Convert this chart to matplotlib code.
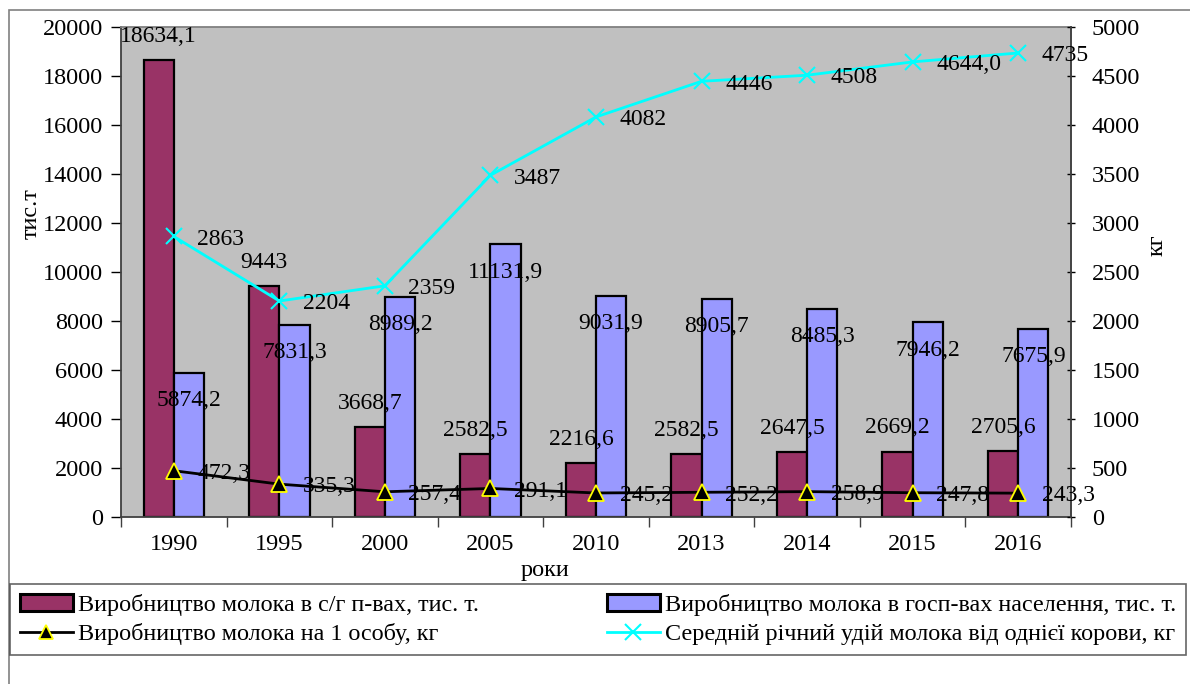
import matplotlib
matplotlib.use("Agg")
import matplotlib.pyplot as plt
from matplotlib.patches import Rectangle, Patch
from matplotlib.lines import Line2D
import numpy as np

years = ["1990", "1995", "2000", "2005", "2010", "2013", "2014", "2015", "2016"]
agri_prod = [18634.1, 9443, 3668.7, 2582.5, 2216.6, 2582.5, 2647.5, 2669.2, 2705.6]
agri_dec = [1, 0, 1, 1, 1, 1, 1, 1, 1]
house_prod = [5874.2, 7831.3, 8989.2, 11131.9, 9031.9, 8905.7, 8485.3, 7946.2, 7675.9]
house_dec = [1, 1, 1, 1, 1, 1, 1, 1, 1]
per_capita = [472.3, 335.3, 257.4, 291.1, 245.2, 252.2, 258.9, 247.8, 243.3]
per_capita_dec = [1, 1, 1, 1, 1, 1, 1, 1, 1]
milk_yield = [2863, 2204, 2359, 3487, 4082, 4446, 4508, 4644.0, 4735]
milk_yield_dec = [0, 0, 0, 0, 0, 0, 0, 1, 0]

names = ["Виробництво молока в с/г п-вах, тис. т.",
         "Виробництво молока в госп-вах населення, тис. т.",
         "Виробництво молока на 1 особу, кг",
         "Середній річний удій молока від однієї корови, кг"]

def fmt(v, d):
    return f"{v:.{d}f}".replace(".", ",")

plt.rcParams['font.family'] = ['Liberation Serif', 'DejaVu Serif']
FS = 17.5
FS_LAB = 17
FS_LEG = 17.4

W, H = 1190, 684
fig = plt.figure(figsize=(W / 100, H / 100), dpi=100)

# outer frame
fig.patches.append(Rectangle((9 / W, -0.1), 1.2, 1 - 10 / H + 0.1, transform=fig.transFigure,
                             fill=False, edgecolor='#808080', linewidth=1.2))

ax = fig.add_axes([121 / W, 1 - 517 / H, 950 / W, 490 / H])
ax.set_facecolor('#C0C0C0')
x = np.arange(len(years))
bw = 0.286
b1 = ax.bar(x - bw / 2, agri_prod, bw, color='#993366', edgecolor='black', linewidth=1.6, zorder=2)
b2 = ax.bar(x + bw / 2, house_prod, bw, color='#9999FF', edgecolor='black', linewidth=1.6, zorder=2)
ax.set_xlim(-0.5, len(years) - 0.5)
ax.set_ylim(0, 20000)
ax.set_yticks(np.arange(0, 20001, 2000))
ax.set_xticks(x)
ax.set_xticklabels(years, fontsize=FS)
ax.set_xticks(np.arange(-0.5, len(years), 1), minor=True)
ax.tick_params(axis='x', which='major', length=0, pad=12)
ax.tick_params(axis='x', which='minor', length=7, width=1, direction='out', color='#404040')
ax.tick_params(axis='y', labelsize=FS, length=7, width=1, direction='out', pad=6)
for s in ['top', 'right']:
    ax.spines[s].set_color('#808080')
ax.spines['left'].set_color('#404040')
ax.spines['bottom'].set_color('#404040')
for sp in ax.spines.values():
    sp.set_linewidth(1.3)
ax.set_ylabel("тис.т", fontsize=FS)
ax.yaxis.set_label_coords(-0.084, 0.62)
ax.set_xlabel("роки", fontsize=FS)
ax.xaxis.set_label_coords(0.446, -0.087)

ax2 = ax.twinx()
ax2.set_ylim(0, 5000)
ax2.set_yticks(np.arange(0, 5001, 500))
ax2.tick_params(axis='y', labelsize=FS, length=6, width=1, direction='inout', pad=12)
ax2.spines['right'].set_color('#404040')
ax2.spines['right'].set_linewidth(1.3)
for s in ['top', 'left', 'bottom']:
    ax2.spines[s].set_visible(False)
ax2.set_ylabel("кг", fontsize=FS)
ax2.yaxis.set_label_coords(1.08, 0.555)

l1, = ax2.plot(x, per_capita, color='black', linewidth=2, marker='^', markersize=11,
               markerfacecolor='black', markeredgecolor='#FFFF00', markeredgewidth=1.3, zorder=3)
l2, = ax2.plot(x, milk_yield, color='#00FFFF', linewidth=2, marker='x', markersize=12,
               markeredgewidth=1.5, zorder=3)

# labels
for xi, v, d in zip(x, agri_prod, agri_dec):
    ax2.annotate(fmt(v, d), (xi - bw / 2, v / 4), xytext=(0, 17), textcoords='offset points',
                 ha='center', va='center', fontsize=FS_LAB, zorder=5)
for xi, v, d in zip(x, house_prod, house_dec):
    ax2.annotate(fmt(v, d), (xi + bw / 2, v / 4), xytext=(0, -20), textcoords='offset points',
                 ha='center', va='center', fontsize=FS_LAB, zorder=5)
for xi, v, d in zip(x, per_capita, per_capita_dec):
    ax2.annotate(fmt(v, d), (xi, v), xytext=(17, -2), textcoords='offset points',
                 ha='left', va='center', fontsize=FS_LAB, zorder=5)
for xi, v, d in zip(x, milk_yield, milk_yield_dec):
    ax2.annotate(fmt(v, d), (xi, v), xytext=(17, -2), textcoords='offset points',
                 ha='left', va='center', fontsize=FS_LAB, zorder=5)

handles = [Patch(facecolor='#993366', edgecolor='black', linewidth=2.2),
           Line2D([], [], color='black', linewidth=2, marker='^', markersize=10,
                  markerfacecolor='black', markeredgecolor='#FFFF00', markeredgewidth=1.3),
           Patch(facecolor='#9999FF', edgecolor='black', linewidth=2.2),
           Line2D([], [], color='#00FFFF', linewidth=2, marker='x', markersize=12, markeredgewidth=1.5)]
labels = [names[0], names[2], names[1], names[3]]
leg = fig.legend(handles, labels, loc='upper left', ncol=2,
                 bbox_to_anchor=(10 / W, 1 - 584 / H),
                 fontsize=FS_LEG, frameon=True, fancybox=False, borderaxespad=0,
                 handlelength=2.2, handletextpad=0.2, labelspacing=0.32,
                 borderpad=0.4, columnspacing=5.3)
leg.get_frame().set_edgecolor('#404040')
leg.get_frame().set_linewidth(1.2)

fig.savefig("out.png", dpi=100)
